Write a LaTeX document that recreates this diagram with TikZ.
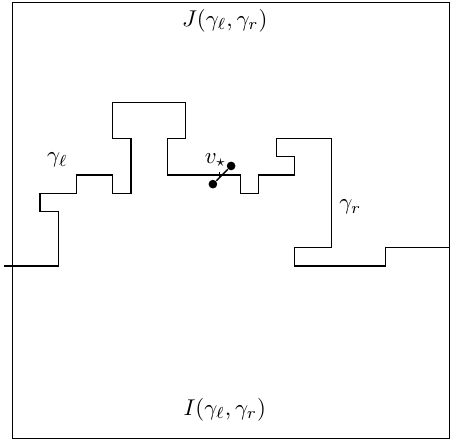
\documentclass[tikz,border=0pt]{standalone}
\usepackage{tikz}

\begin{document}
\begin{tikzpicture}[scale=0.28,
    dot/.style={circle,fill,inner sep=0pt,minimum size=3.8pt},
    lbl/.style={inner sep=1pt}]
  \useasboundingbox (-2.2,-14.62) rectangle (22.64,9.62);
  \draw[line width=0.45pt] (-1.5,-14.5) rectangle (22.5,9.5);
  % gamma_l
  \draw[line width=0.5pt] (-2,-5) -- (1,-5) -- (1,-2) -- (0,-2) -- (0,-1) -- (2,-1) -- (2,0)
    -- (4,0) -- (4,-1) -- (5,-1) -- (5,2) -- (4,2) -- (4,4) -- (8,4) -- (8,2) -- (7,2)
    -- (7,0) -- (10,0);
  % gamma_r
  \draw[line width=0.5pt] (10,0) -- (11,0) -- (11,-1) -- (12,-1) -- (12,0) -- (14,0) -- (14,1)
    -- (13,1) -- (13,2) -- (16,2) -- (16,-4) -- (14,-4) -- (14,-5) -- (19,-5) -- (19,-4)
    -- (22.5,-4);
  % dual edge
  \node[dot] (a) at (9.5,-0.5) {};
  \node[dot] (b) at (10.5,0.5) {};
  \draw[line width=0.6pt] (a) -- (b);
  \draw[line width=0.6pt] (9.85,-0.17) -- (9.85,0.17);
  \node[lbl] (vs) at (9.65,0.82) {$v_\star$};
  \node[lbl] (gl) at (0.95,0.82) {$\gamma_\ell$};
  \node[lbl] (gr) at (17.05,-1.75) {$\gamma_r$};
  \node[lbl] (J) at (10.15,8.5) {$J(\gamma_\ell,\gamma_r)$};
  \node[lbl] (I) at (10.15,-12.9) {$I(\gamma_\ell,\gamma_r)$};
\end{tikzpicture}
\end{document}
